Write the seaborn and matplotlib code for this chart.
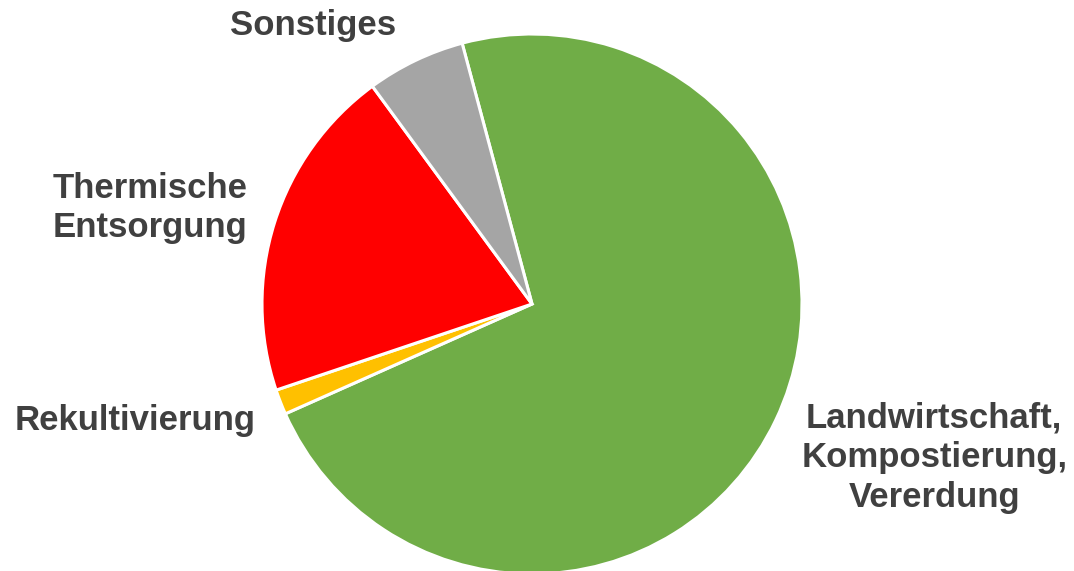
import matplotlib
matplotlib.use("Agg")
import matplotlib.pyplot as plt
import seaborn as sns

sns.set_theme(style="white")
plt.rcParams['font.family'] = ['Liberation Sans', 'DejaVu Sans']

categories = ["Landwirtschaft,\nKompostierung,\nVererdung", "Rekultivierung",
              "Thermische\nEntsorgung", "Sonstiges"]
values = [72.5, 1.5, 20.1, 5.9]
colors = ["#70AD47", "#FFC000", "#FF0000", "#A5A5A5"]

fig = plt.figure(figsize=(10.74, 5.71), dpi=100)
ax = fig.add_axes([0, 0, 1, 1])
wedges, _ = ax.pie(values, colors=colors, startangle=105, counterclock=False,
                   radius=1, wedgeprops=dict(edgecolor="white", linewidth=2.2))

label_pos = [(1.49, -0.57), (-1.47, -0.43), (-1.415, 0.355), (-0.81, 1.03)]
for txt, (x, y) in zip(categories, label_pos):
    ax.text(x, y, txt, ha="center", va="center", fontsize=25, fontweight="bold",
            color="#404040", linespacing=1.25)

ax.set_xlim(-532/270, (1074-532)/270)
ax.set_ylim(-(571-304)/270, 304/270)
ax.set_aspect("equal")
ax.axis("off")
fig.savefig("out.png", dpi=100, facecolor="white")
